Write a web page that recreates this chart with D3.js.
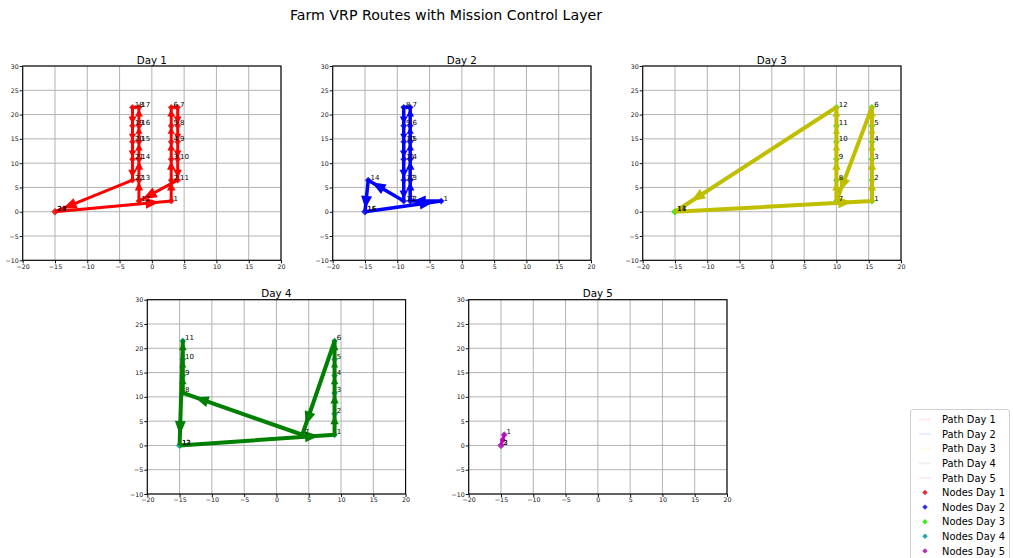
<!DOCTYPE html>
<html>
<head>
<meta charset="utf-8">
<script src="https://cdn.jsdelivr.net/npm/d3@7"></script>
<style>
  html, body { margin: 0; padding: 0; background: #fff; }
  svg { display: block; font-family: "DejaVu Sans", sans-serif; }
</style>
</head>
<body>
<svg id="chart" width="1013" height="558"></svg>
<script>
// ---- Data -------------------------------------------------------------
const dayNames = ["Day 1", "Day 2", "Day 3", "Day 4", "Day 5"];

// Route node coordinates in visiting order (index 0 is the depot, unlabeled)
const day1X = [-15, 3, 3, 3, 3, 3, 3, 4, 4, 4, 4, 4, -2, -2, -2, -2, -2, -2, -3, -3, -3, -3, -3, -15, -15];
const day1Y = [0, 2.2, 6.5, 10.8, 14.4, 17.7, 21.5, 21.5, 17.7, 14.4, 10.8, 6.5, 2.2, 6.5, 10.8, 14.4, 17.7, 21.5, 21.5, 17.7, 14.4, 10.8, 6.5, 0, 0];

const day2X = [-15, -3.2, -8, -8, -8, -8, -8, -8, -9, -9, -9, -9, -9, -9, -14.5, -15, -15];
const day2Y = [0, 2.2, 2.2, 6.5, 10.8, 14.4, 17.7, 21.5, 21.5, 17.7, 14.4, 10.8, 6.5, 2.2, 6.5, 0, 0];

const day3X = [-15, 15.5, 15.5, 15.5, 15.5, 15.5, 15.5, 10, 10, 10, 10, 10, 10, -15, -15];
const day3Y = [0, 2.2, 6.5, 10.8, 14.4, 17.7, 21.5, 2.2, 6.5, 10.8, 14.4, 17.7, 21.5, 0, 0];

const day4X = [-15, 9, 9, 9, 9, 9, 9, 4, -14.5, -14.5, -14.5, -14.5, -15, -15];
const day4Y = [0, 2.2, 6.5, 10.8, 14.4, 17.7, 21.5, 2.2, 10.8, 14.4, 17.7, 21.5, 0, 0];

const day5X = [-15, -14.5, -15, -15];
const day5Y = [0, 2.2, 0, 0];

const routeXs = [day1X, day2X, day3X, day4X, day5X];
const routeYs = [day1Y, day2Y, day3Y, day4Y, day5Y];

// Axis ticks
const xTicks = [-20, -15, -10, -5, 0, 5, 10, 15, 20];
const yTicks = [-10, -5, 0, 5, 10, 15, 20, 25, 30];

// Colours
const pathColors = ["#ff0000", "#0000ff", "#bfbf00", "#008000", "#bf00bf"];
const nodeColors = ["#e03434", "#3030d8", "#3ce81e", "#1eabae", "#b232b2"];
const pathWidths = [3, 3.5, 4, 4, 2.5];

const legendLabels = [
  "Path Day 1", "Path Day 2", "Path Day 3", "Path Day 4", "Path Day 5",
  "Nodes Day 1", "Nodes Day 2", "Nodes Day 3", "Nodes Day 4", "Nodes Day 5"
];

// ---- Layout -----------------------------------------------------------
const svg = d3.select("#chart");
const panelW = 258.3, panelH = 194.3;
const panelPos = [
  [22.7, 66], [332.7, 66], [642.7, 66],
  [147.3, 299.7], [468.7, 299.7]
];

const fmt = d => d < 0 ? "\u2212" + Math.abs(d) : String(d);

svg.append("text")
  .attr("x", 446).attr("y", 20)
  .attr("text-anchor", "middle")
  .attr("font-size", 14.2)
  .attr("fill", "#000")
  .text("Farm VRP Routes with Mission Control Layer");

const diamond = "M0,-3.4L3.4,0L0,3.4L-3.4,0Z";

dayNames.forEach((name, di) => {
  const [px, py] = panelPos[di];
  const g = svg.append("g").attr("transform", `translate(${px},${py})`);
  const x = d3.scaleLinear().domain([-20, 20]).range([0, panelW]);
  const y = d3.scaleLinear().domain([-10, 30]).range([panelH, 0]);

  // grid
  g.append("g").selectAll("line.gx").data(xTicks).join("line")
    .attr("x1", d => x(d)).attr("x2", d => x(d))
    .attr("y1", 0).attr("y2", panelH)
    .attr("stroke", "#b3b3b3").attr("stroke-width", 1);
  g.append("g").selectAll("line.gy").data(yTicks).join("line")
    .attr("y1", d => y(d)).attr("y2", d => y(d))
    .attr("x1", 0).attr("x2", panelW)
    .attr("stroke", "#b3b3b3").attr("stroke-width", 1);

  // axes
  const xAxis = g.append("g").attr("transform", `translate(0,${panelH})`)
    .call(d3.axisBottom(x).tickValues(xTicks).tickSize(3).tickPadding(1).tickFormat(fmt));
  const yAxis = g.append("g")
    .call(d3.axisLeft(y).tickValues(yTicks).tickSize(3).tickPadding(1).tickFormat(fmt));
  [xAxis, yAxis].forEach(a => {
    a.select(".domain").remove();
    a.selectAll("text").attr("font-size", 6.3).attr("fill", "#111")
      .attr("font-family", "DejaVu Sans, sans-serif");
    a.selectAll("line").attr("stroke", "#111");
  });

  // title
  g.append("text")
    .attr("x", panelW / 2).attr("y", -2.5)
    .attr("text-anchor", "middle")
    .attr("font-size", 10.3)
    .text(name);

  const xs = routeXs[di], ys = routeYs[di];
  const pts = xs.map((v, i) => [x(v), y(ys[i])]);

  // nodes (under the route arrows)
  g.append("g").selectAll("path").data(pts).join("path")
    .attr("d", diamond)
    .attr("transform", d => `translate(${d[0]},${d[1]})`)
    .attr("fill", nodeColors[di]);

  // route polyline
  g.append("path")
    .attr("d", d3.line()(pts))
    .attr("fill", "none")
    .attr("stroke", pathColors[di])
    .attr("stroke-width", pathWidths[di])
    .attr("stroke-linejoin", "round");

  // arrow heads for each leg
  const heads = g.append("g");
  for (let i = 0; i < pts.length - 1; i++) {
    const [x0, y0] = pts[i], [x1, y1] = pts[i + 1];
    const dx = x1 - x0, dy = y1 - y0;
    const len = Math.hypot(dx, dy);
    if (len < 1) continue;
    const ux = dx / len, uy = dy / len;
    const tx = x0 + dx * 0.9, ty = y0 + dy * 0.9;
    const hl = Math.min(14, 0.4 * len);
    const hw = Math.min(11, 3 + hl * 0.65);
    const bx = tx - ux * hl, by = ty - uy * hl;
    const nx = -uy, ny = ux;
    heads.append("path")
      .attr("d", `M${tx},${ty}L${bx + nx * hw / 2},${by + ny * hw / 2}L${bx - nx * hw / 2},${by - ny * hw / 2}Z`)
      .attr("fill", pathColors[di]);
  }

  // node order labels
  g.append("g").selectAll("text").data(pts.slice(1)).join("text")
    .attr("x", d => d[0] + 2.3)
    .attr("y", d => d[1] - 0.5)
    .attr("font-size", 7)
    .attr("fill", "#000")
    .text((d, i) => String(i + 1));

  // frame
  g.append("rect")
    .attr("width", panelW).attr("height", panelH)
    .attr("fill", "none").attr("stroke", "#000").attr("stroke-width", 1.1);
});

// ---- Legend ------------------------------------------------------------
const lg = svg.append("g");
lg.append("rect")
  .attr("x", 910.5).attr("y", 409.5)
  .attr("width", 99).attr("height", 170)
  .attr("rx", 2.5)
  .attr("fill", "#fff").attr("stroke", "#cfcfcf").attr("stroke-width", 1);

legendLabels.forEach((lab, i) => {
  const yy = 419.5 + i * 14.6;
  if (i < 5) {
    lg.append("line")
      .attr("x1", 919).attr("x2", 931).attr("y1", yy).attr("y2", yy)
      .attr("stroke", pathColors[i]).attr("stroke-opacity", 0.08).attr("stroke-width", 2);
  } else {
    lg.append("path").attr("d", diamond)
      .attr("transform", `translate(925,${yy}) scale(0.8)`)
      .attr("fill", nodeColors[i - 5]);
  }
  lg.append("text")
    .attr("x", 942).attr("y", yy + 3.6)
    .attr("font-size", 9.9)
    .attr("fill", "#000")
    .text(lab);
});
</script>
</body>
</html>
